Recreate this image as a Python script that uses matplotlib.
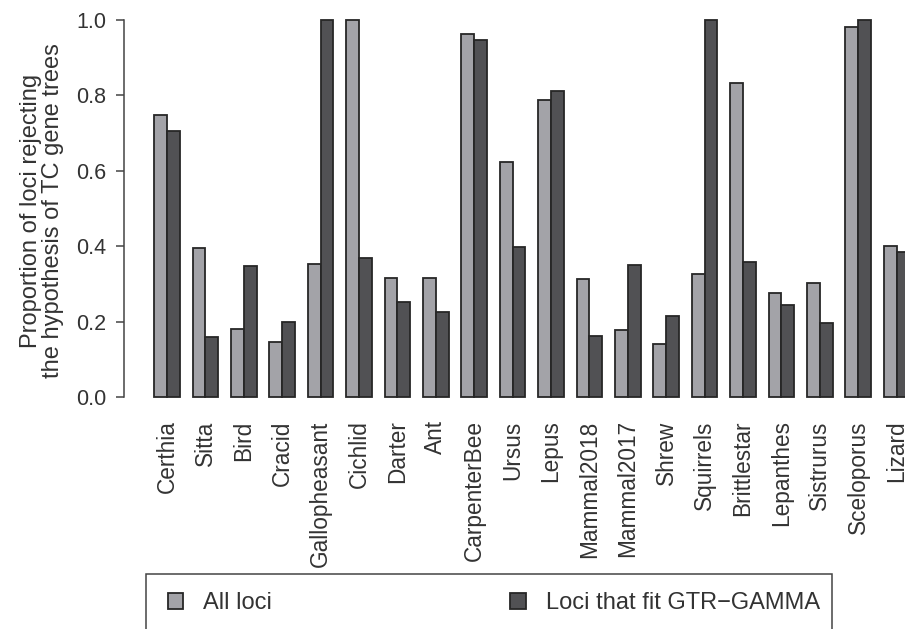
#!/usr/bin/env python3
# -*- coding: utf-8 -*-

import matplotlib
matplotlib.use('Agg')
import matplotlib.pyplot as plt
from matplotlib.patches import Patch, Rectangle
import numpy as np

plt.rcParams['font.family'] = ['Liberation Sans', 'DejaVu Sans']

datasets = ['Certhia', 'Sitta', 'Bird', 'Cracid', 'Gallopheasant', 'Cichlid',
            'Darter', 'Ant', 'CarpenterBee', 'Ursus', 'Lepus', 'Mammal2018',
            'Mammal2017', 'Shrew', 'Squirrels', 'Brittlestar', 'Lepanthes',
            'Sistrurus', 'Sceloporus', 'Lizard']
all_loci = [0.748, 0.394, 0.181, 0.145, 0.354, 1.000, 0.315, 0.315, 0.963, 0.624,
            0.787, 0.313, 0.178, 0.140, 0.326, 0.833, 0.277, 0.302, 0.981, 0.400]
gtr_loci = [0.706, 0.158, 0.347, 0.199, 1.000, 0.369, 0.251, 0.225, 0.947, 0.399,
            0.812, 0.162, 0.350, 0.215, 1.000, 0.357, 0.243, 0.196, 1.000, 0.385]

LIGHT = '#a3a3a8'
DARK = '#515154'
EDGE = '#262626'
INK = '#333333'

W, H = 905, 629
fig = plt.figure(figsize=(W / 100, H / 100), dpi=100)

# barplot(beside=TRUE) layout: one unit gap before every pair of bars,
# x range padded by 4% like R's default axis style
n = len(datasets)
left = 1 + 3 * np.arange(n)
span = 3 * n - 1
xmin, xmax = 1 - 0.04 * span, 3 * n + 0.04 * span
unit_px = 12.8
ax = fig.add_axes([124 / W, (H - 412) / H, (xmax - xmin) * unit_px / W, 407 / H])

bar_kw = dict(width=1, align='edge', edgecolor=EDGE, linewidth=1.3)
ax.bar(left, all_loci, color=LIGHT, **bar_kw)
ax.bar(left + 1, gtr_loci, color=DARK, **bar_kw)

ax.set_xlim(xmin, xmax)
ax.set_ylim(-0.04, 1.04)

for side in ['top', 'right', 'bottom']:
    ax.spines[side].set_visible(False)
ax.spines['left'].set_bounds(0, 1)
ax.spines['left'].set_color('#444444')
ax.spines['left'].set_linewidth(1.1)

yt = np.arange(0, 1.01, 0.2)
ax.set_yticks(yt, [f'{v:.1f}' for v in yt])
ax.tick_params(axis='y', length=5.8, width=1.1, color='#444444', pad=7,
               labelsize=15.5, labelcolor=INK)
ax.set_xticks(left + 1, datasets, rotation=90, ha='center', va='top')
ax.tick_params(axis='x', length=0, pad=6, labelsize=16.3, labelcolor=INK)

fig.text(42 / W, 1 - 211 / H,
         'Proportion of loci rejecting\nthe hypothesis of TC gene trees',
         rotation=90, ha='center', va='center', fontsize=17, color=INK,
         linespacing=1.05, multialignment='center')

# legend frame runs past the bottom edge
fig.patches.append(Rectangle((146 / W, -4 / H), 686 / W, 59 / H,
                             transform=fig.transFigure, fill=False,
                             edgecolor='#444444', linewidth=1.1))
handles = [Patch(facecolor=LIGHT, edgecolor=EDGE, linewidth=1.3),
           Patch(facecolor=DARK, edgecolor=EDGE, linewidth=1.3)]
fig.legend(handles, ['All loci', 'Loci that fit GTR\u2212GAMMA'],
           loc='center', bbox_to_anchor=(168 / W, 1 - 620 / H, 652 / W, 34 / H),
           mode='expand', ncol=2, frameon=False, fontsize=17,
           handlelength=0.65, handleheight=0.65, handletextpad=0.85,
           borderpad=0, borderaxespad=0, labelcolor=INK)

fig.savefig('out.png', dpi=100)
